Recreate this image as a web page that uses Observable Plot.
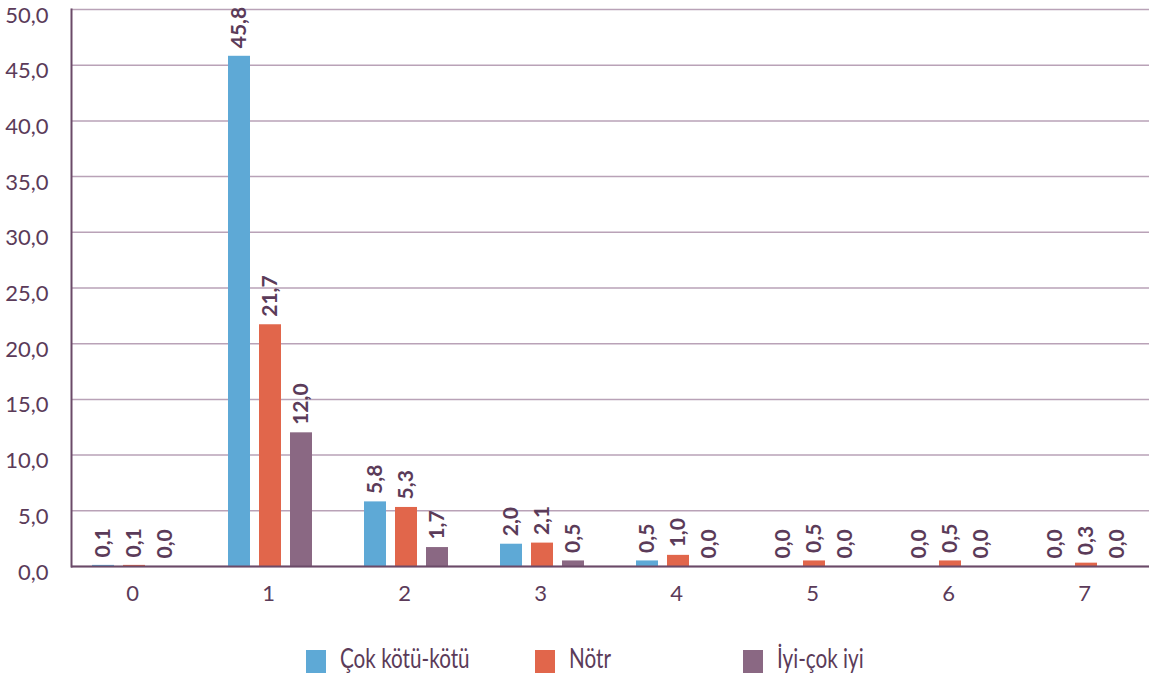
<!DOCTYPE html>
<html>
<head>
<meta charset="utf-8">
<script src="https://cdn.jsdelivr.net/npm/d3@7"></script>
<script src="https://cdn.jsdelivr.net/npm/@observablehq/plot@0.6"></script>
<style>
  html, body { margin: 0; padding: 0; background: #fff; }
  body { width: 1149px; height: 685px; overflow: hidden; font-family: Lato, sans-serif; }
  #legend { display: flex; align-items: flex-end; height: 23px; margin-top: 30px; padding-left: 306px; color: #5b3b59; font-size: 22px; }
  .item { display: flex; align-items: flex-end; }
  .sw { width: 20px; height: 23px; margin-right: 14px; }
  .lab { display: inline-block; transform-origin: 0 100%; transform: scale(0.94, 1.2); line-height: 1; margin-bottom: 1px; }
</style>
</head>
<body>
<div id="chart"></div>
<div id="legend"></div>
<script>
const categories = ["0", "1", "2", "3", "4", "5", "6", "7"];
const seriesNames = ["Çok kötü-kötü", "Nötr", "İyi-çok iyi"];
const cokKotuKotu = [0.1, 45.8, 5.8, 2.0, 0.5, 0.0, 0.0, 0.0];
const notr = [0.1, 21.7, 5.3, 2.1, 1.0, 0.5, 0.5, 0.3];
const iyiCokIyi = [0.0, 12.0, 1.7, 0.5, 0.0, 0.0, 0.0, 0.0];
const yTicks = [0, 5, 10, 15, 20, 25, 30, 35, 40, 45, 50];
const colors = ["#5ea9d6", "#e1664b", "#8a6883"];

const seriesValues = [cokKotuKotu, notr, iyiCokIyi];
const tables = seriesNames.map((s, j) => categories.map((c, i) => ({cat: c, series: s, value: seriesValues[j][i]})));
const fmt = v => d3.format(".1f")(v).replace(".", ",");
const textColor = "#5b3b59";
const offsets = [-31, 0, 31];

const marks = [Plot.ruleY(yTicks, {stroke: "#b9a2b7", strokeWidth: 1.5})];
tables.forEach((t, j) => {
  marks.push(Plot.barY(t, {x: "cat", y: "value", fill: "series", dx: offsets[j], insetLeft: 57, insetRight: 57}));
});
tables.forEach((t, j) => {
  marks.push(Plot.text(t, {x: "cat", y: "value", text: d => fmt(d.value), rotate: -90, textAnchor: "start", dx: offsets[j], dy: -8, fontWeight: "bold", fontSize: 21, fill: textColor}));
});
marks.push(
  Plot.ruleY([0], {stroke: "#6b4a68", strokeWidth: 2}),
  Plot.frame({anchor: "left", stroke: "#6b4a68", strokeWidth: 2}),
  Plot.axisY({ticks: yTicks, tickFormat: fmt, tickSize: 0, tickPadding: 23, fontSize: 22, dy: 6, label: null, fill: textColor}),
  Plot.axisX({anchor: "bottom", tickSize: 0, tickPadding: 19, fontSize: 22, dx: -2, label: null, fill: textColor})
);

const chart = Plot.plot({
  width: 1149,
  height: 620,
  marginLeft: 71,
  marginRight: 0,
  marginTop: 9,
  marginBottom: 54,
  style: {fontFamily: "Lato, sans-serif", color: textColor, background: "#fff"},
  x: {domain: categories, range: [62, 1157], padding: 0, label: null},
  y: {domain: [0, 50], label: null},
  color: {domain: seriesNames, range: colors},
  marks
});
document.getElementById("chart").appendChild(chart);

const legend = document.getElementById("legend");
const itemWidths = [229, 208, 200];
seriesNames.forEach((s, i) => {
  const item = document.createElement("div");
  item.className = "item";
  item.style.width = itemWidths[i] + "px";
  const sw = document.createElement("div");
  sw.className = "sw";
  sw.style.background = colors[i];
  const label = document.createElement("span");
  label.className = "lab";
  label.textContent = s;
  item.appendChild(sw);
  item.appendChild(label);
  legend.appendChild(item);
});
</script>
</body>
</html>
